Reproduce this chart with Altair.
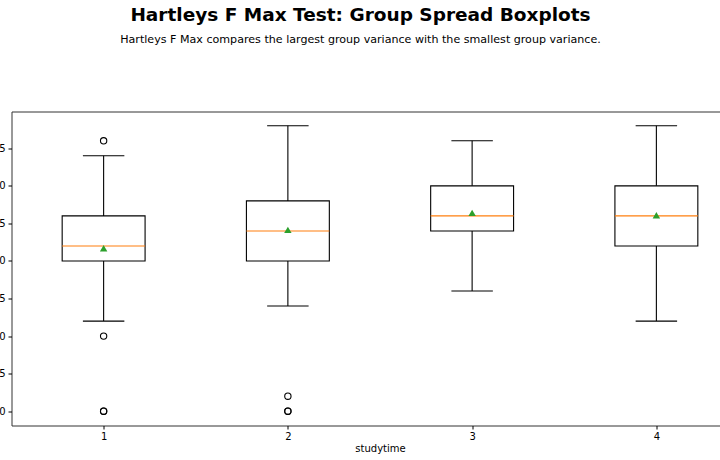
import altair as alt
import pandas as pd

# Group summary statistics
studytime = [1, 2, 3, 4]
whisker_low = [6, 7, 8, 6]
q1 = [10, 10, 12, 11]
median = [11, 12, 13, 13]
q3 = [13, 14, 15, 15]
whisker_high = [17, 19, 18, 19]
mean = [10.85, 12.07, 13.2, 13.05]

outlier_group = [1, 1, 1, 1, 2, 2, 2]
outlier_value = [18, 5, 0, 0, 1, 0, 0]

y_ticks = [0, 2.5, 5, 7.5, 10, 12.5, 15, 17.5]

stats = pd.DataFrame({
    "studytime": studytime,
    "wlo": whisker_low,
    "q1": q1,
    "median": median,
    "q3": q3,
    "whi": whisker_high,
    "mean": mean,
})
outliers = pd.DataFrame({"studytime": outlier_group, "value": outlier_value})

FONT = "DejaVu Sans"
xscale = alt.Scale(domain=[0.5, 4.5], nice=False, zero=False)
yscale = alt.Scale(domain=[-0.95, 19.95], nice=False, zero=False)

xaxis = alt.Axis(values=studytime, format="d", title="studytime", grid=False,
                 domain=False, tickColor="black", tickSize=3.5, labelColor="black",
                 labelFont=FONT, labelFontSize=10, titleFont=FONT, titleFontSize=10,
                 titleFontWeight="normal", titleColor="black", labelPadding=2, titlePadding=2)
yaxis = alt.Axis(values=y_ticks, format=".1f", title=None, grid=False, domain=False,
                 tickColor="black", tickSize=3.5, labelColor="black", labelFont=FONT,
                 labelFontSize=10, labelPadding=3)

base = alt.Chart(stats).transform_calculate(
    box_lo="datum.studytime - 0.225",
    box_hi="datum.studytime + 0.225",
    cap_lo="datum.studytime - 0.1125",
    cap_hi="datum.studytime + 0.1125",
)

box = base.mark_bar(fill="white", stroke="black", strokeWidth=1.1).encode(
    x=alt.X("box_lo:Q", scale=xscale, axis=xaxis),
    x2="box_hi:Q",
    y=alt.Y("q1:Q", scale=yscale, axis=yaxis),
    y2="q3:Q",
)
whisk_lo = base.mark_rule(color="black", strokeWidth=1.1).encode(
    x=alt.X("studytime:Q", scale=xscale), y=alt.Y("wlo:Q", scale=yscale), y2="q1:Q")
whisk_hi = base.mark_rule(color="black", strokeWidth=1.1).encode(
    x=alt.X("studytime:Q", scale=xscale), y=alt.Y("q3:Q", scale=yscale), y2="whi:Q")
cap_lo = base.mark_rule(color="black", strokeWidth=1.1).encode(
    x=alt.X("cap_lo:Q", scale=xscale), x2="cap_hi:Q", y=alt.Y("wlo:Q", scale=yscale))
cap_hi = base.mark_rule(color="black", strokeWidth=1.1).encode(
    x=alt.X("cap_lo:Q", scale=xscale), x2="cap_hi:Q", y=alt.Y("whi:Q", scale=yscale))
med = base.mark_rule(color="#ff7f0e", strokeWidth=1.1).encode(
    x=alt.X("box_lo:Q", scale=xscale), x2="box_hi:Q", y=alt.Y("median:Q", scale=yscale))
mean_pt = base.mark_point(shape="triangle-up", filled=True, color="#2ca02c", size=55, opacity=1).encode(
    x=alt.X("studytime:Q", scale=xscale), y=alt.Y("mean:Q", scale=yscale))
fliers = alt.Chart(outliers).mark_point(shape="circle", filled=False, color="black",
                                        size=40, strokeWidth=1.1, opacity=1).encode(
    x=alt.X("studytime:Q", scale=xscale), y=alt.Y("value:Q", scale=yscale))

chart = alt.layer(box, whisk_lo, whisk_hi, cap_lo, cap_hi, med, mean_pt, fliers).properties(
    width=737,
    height=314,
    autosize=alt.AutoSizeParams(type="none"),
    padding={"left": 11.5, "top": 111.5, "right": -28.5, "bottom": 34.5},
    background="white",
    title=alt.TitleParams(
        text="Hartleys F Max Test: Group Spread Boxplots",
        subtitle="Hartleys F Max compares the largest group variance with the smallest group variance.",
        font=FONT, fontSize=18.5, fontWeight="bold", color="black",
        subtitleFont=FONT, subtitleFontSize=11.1, subtitleColor="black",
        subtitlePadding=10, anchor="middle", frame="group", dx=-19.5, offset=66,
    ),
).configure_view(stroke="#333333", strokeWidth=1)

chart.save("out.html", embed_options={"renderer": "svg", "actions": False})
